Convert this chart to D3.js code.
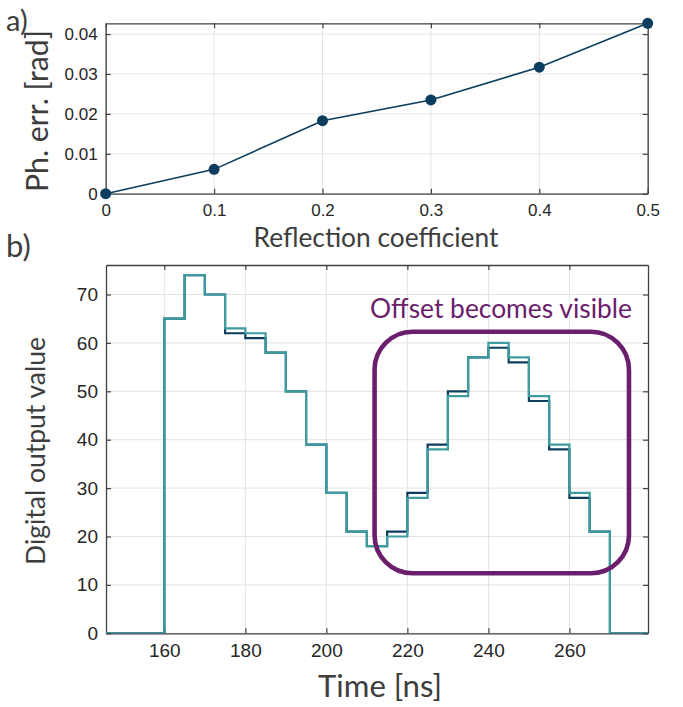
<!DOCTYPE html>
<html><head><meta charset="utf-8">
<script src="https://cdn.jsdelivr.net/npm/d3@7"></script>
<style>
html,body{margin:0;padding:0;background:#fff;}
svg{display:block;}
</style></head>
<body>
<script>
// ---------- data ----------
const reflection = [0, 0.1, 0.2, 0.3, 0.4, 0.5];
const phaseErr = [0, 0.0061, 0.0183, 0.0235, 0.0317, 0.0427];
const topXTicks = [0, 0.1, 0.2, 0.3, 0.4, 0.5];
const topYTicks = [0, 0.01, 0.02, 0.03, 0.04];

const timeNs = [145,160,165,170,175,180,185,190,195,200,205,210,215,220,225,230,235,240,245,250,255,260,265,270,280];
const outputRef    = [0,65,74,70,62,61,58,50,39,29,21,18,21,29,39,50,57,59,56,48,38,28,21,0,0];
const outputOffset = [0,65,74,70,63,62,58,50,39,29,21,18,20,28,38,49,57,60,57,49,39,29,21,0,0];
const botXTicks = [160,180,200,220,240,260];
const botYTicks = [0,10,20,30,40,50,60,70];
const annotBox = {x0: 211.9, x1: 274.7, y0: 12.4, y1: 62.3};
const annotText = "Offset becomes visible";

// ---------- style ----------
const W = 683, H = 707;
const navy = "#0c3d5e", teal = "#3c9c9f", purple = "#6b1e6c";
const axisCol = "#404040", gridCol = "#e3e3e3", tickText = "#262626", titleCol = "#3d3d3d";
const tickFont = "'Liberation Sans', Arial, sans-serif";
const titleFont = "Lato, 'Open Sans', sans-serif";

const svg = d3.select("body").append("svg").attr("width", W).attr("height", H);

function fit(sel, target) {
  const n = sel.node();
  const fs = parseFloat(sel.attr("font-size"));
  const len = n.getComputedTextLength();
  if (len > 0) sel.attr("font-size", fs * target / len);
}

function drawFrame(g, x, y, xt, yt, xfmt, yfmt, tickSize) {
  const [x0, x1] = x.range(), [y0, y1] = y.range();
  g.append("g").selectAll("line").data(xt).join("line")
    .attr("x1", d => x(d)).attr("x2", d => x(d)).attr("y1", y0).attr("y2", y1)
    .attr("stroke", gridCol).attr("stroke-width", 1);
  g.append("g").selectAll("line").data(yt).join("line")
    .attr("x1", x0).attr("x2", x1).attr("y1", d => y(d)).attr("y2", d => y(d))
    .attr("stroke", gridCol).attr("stroke-width", 1);
  const ax = g.append("g").attr("transform", `translate(0,${y0})`)
    .call(d3.axisBottom(x).tickValues(xt).tickSizeInner(-5).tickSizeOuter(0).tickFormat(xfmt).tickPadding(10));
  const ay = g.append("g").attr("transform", `translate(${x0},0)`)
    .call(d3.axisLeft(y).tickValues(yt).tickSizeInner(-5).tickSizeOuter(0).tickFormat(yfmt).tickPadding(8));
  const axt = g.append("g").attr("transform", `translate(0,${y1})`)
    .call(d3.axisTop(x).tickValues(xt).tickSizeInner(-5).tickSizeOuter(0).tickFormat(""));
  const ayr = g.append("g").attr("transform", `translate(${x1},0)`)
    .call(d3.axisRight(y).tickValues(yt).tickSizeInner(-5).tickSizeOuter(0).tickFormat(""));
  [ax, ay, axt, ayr].forEach(a => {
    a.select(".domain").attr("stroke", axisCol).attr("stroke-width", 1.3);
    a.selectAll(".tick line").attr("stroke", axisCol).attr("stroke-width", 1.2);
    a.selectAll("text").attr("fill", tickText).attr("font-family", tickFont).attr("font-size", tickSize);
  });
  return {ax, ay};
}

// ---------- panel a ----------
{
  const x = d3.scaleLinear().domain([0, 0.5]).range([105.7, 647.7]);
  const y = d3.scaleLinear().domain([0, 0.0427]).range([193.7, 23.3]);
  const g = svg.append("g");
  const {ax, ay} = drawFrame(g, x, y, topXTicks, topYTicks, d => d === 0 ? "0" : d3.format(".1f")(d), d => d === 0 ? "0" : d3.format(".2f")(d), 17);
  ax.selectAll("text").attr("dy", "0.71em").attr("y", 10);
  const line = d3.line().x((d, i) => x(reflection[i])).y(d => y(d));
  g.append("path").datum(phaseErr).attr("d", line).attr("fill", "none")
    .attr("stroke", navy).attr("stroke-width", 1.6);
  g.selectAll("circle.pt").data(phaseErr).join("circle").attr("class", "pt")
    .attr("cx", (d, i) => x(reflection[i])).attr("cy", d => y(d)).attr("r", 5.5).attr("fill", navy);
  const xt = svg.append("text").attr("x", 376).attr("y", 247).attr("text-anchor", "middle")
    .attr("font-family", titleFont).attr("font-size", 24).attr("fill", titleCol).text("Reflection coefficient");
  fit(xt, 245);
  const yt = svg.append("text").attr("transform", "translate(48,111) rotate(-90)").attr("text-anchor", "middle")
    .attr("font-family", titleFont).attr("font-size", 22).attr("fill", titleCol).text("Ph. err. [rad]");
  fit(yt, 162);
  svg.append("text").attr("x", 6).attr("y", 31).attr("font-family", titleFont).attr("font-size", 29)
    .attr("fill", titleCol).text("a)");
}

// ---------- panel b ----------
{
  const x = d3.scaleLinear().domain([145.6, 279.4]).range([106, 648]);
  const y = d3.scaleLinear().domain([0, 76.1]).range([633.3, 265]);
  const g = svg.append("g");
  drawFrame(g, x, y, botXTicks, botYTicks, d3.format("d"), d3.format("d"), 19);
  svg.append("clipPath").attr("id", "clipb").append("rect")
    .attr("x", 106).attr("y", 265).attr("width", 542).attr("height", 368.3);
  const line = d3.line().curve(d3.curveStepAfter).x((d, i) => x(timeNs[i])).y(d => y(d));
  const lg = g.append("g").attr("clip-path", "url(#clipb)");
  lg.append("path").datum(outputRef).attr("d", line).attr("fill", "none")
    .attr("stroke", navy).attr("stroke-width", 2.2);
  lg.append("path").datum(outputOffset).attr("d", line).attr("fill", "none")
    .attr("stroke", teal).attr("stroke-width", 2.2);
  g.append("rect").attr("x", x(annotBox.x0)).attr("y", y(annotBox.y1))
    .attr("width", x(annotBox.x1) - x(annotBox.x0)).attr("height", y(annotBox.y0) - y(annotBox.y1))
    .attr("rx", 38).attr("ry", 38).attr("fill", "none").attr("stroke", purple).attr("stroke-width", 4.6);
  const at = svg.append("text").attr("x", 501).attr("y", 318).attr("text-anchor", "middle")
    .attr("font-family", titleFont).attr("font-size", 24).attr("fill", purple).text(annotText);
  fit(at, 262);
  const xt = svg.append("text").attr("x", 380).attr("y", 697).attr("text-anchor", "middle")
    .attr("font-family", titleFont).attr("font-size", 24).attr("fill", titleCol).text("Time [ns]");
  fit(xt, 124);
  const yt = svg.append("text").attr("transform", "translate(45,451) rotate(-90)").attr("text-anchor", "middle")
    .attr("font-family", titleFont).attr("font-size", 24).attr("fill", titleCol).text("Digital output value");
  fit(yt, 228);
  svg.append("text").attr("x", 6).attr("y", 257).attr("font-family", titleFont).attr("font-size", 31)
    .attr("fill", titleCol).text("b)");
}
</script>
</body></html>
